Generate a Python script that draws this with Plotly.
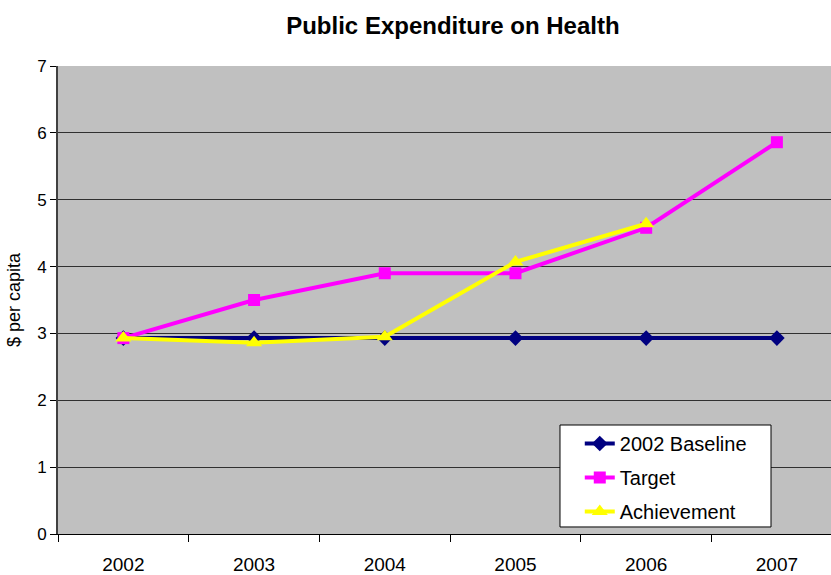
import plotly.graph_objects as go

years = ["2002", "2003", "2004", "2005", "2006", "2007"]
baseline = [2.93, 2.93, 2.93, 2.93, 2.93, 2.93]
target = [2.93, 3.50, 3.90, 3.90, 4.58, 5.86]
achievement = [2.93, 2.86, 2.95, 4.07, 4.64]

font = "Liberation Sans, Arial, sans-serif"

fig = go.Figure()
fig.add_trace(go.Scatter(x=years, y=baseline, name="2002 Baseline", mode="lines+markers",
                         legendgroup="a",
                         line=dict(color="#000080", width=4),
                         marker=dict(symbol="diamond", size=12, color="#000080")))
fig.add_trace(go.Scatter(x=years, y=target, name="Target", mode="lines+markers",
                         legendgroup="b",
                         line=dict(color="#FF00FF", width=4),
                         marker=dict(symbol="square", size=12, color="#FF00FF")))
fig.add_trace(go.Scatter(x=years[:len(achievement)], y=achievement, name="Achievement", mode="lines+markers",
                         legendgroup="c",
                         line=dict(color="#FFFF00", width=4),
                         marker=dict(symbol="triangle-up", size=14, color="#FFFF00")))

# legend frame
fig.add_shape(type="rect", xref="paper", yref="paper",
              x0=0.6494, x1=0.9224, y0=0.0150, y1=0.2329,
              fillcolor="white", line=dict(color="black", width=1), layer="above")

fig.update_layout(
    width=831, height=575,
    margin=dict(l=58, r=0, t=66, b=41),
    paper_bgcolor="white", plot_bgcolor="#C0C0C0",
    font=dict(family=font, color="black", size=16),
    title=dict(text="<b>Public Expenditure on Health</b>", x=0.545, xanchor="center",
               y=0.956, yanchor="middle", font=dict(size=24, family=font)),
    showlegend=True,
    legend=dict(x=0.675, y=0.235, xanchor="left", yanchor="top",
                bgcolor="rgba(0,0,0,0)", borderwidth=0,
                font=dict(size=20, family=font), tracegroupgap=5,
                itemwidth=30, traceorder="grouped"),
)
fig.update_xaxes(type="category", range=[-0.5, 5.414], tickson="boundaries",
                 ticks="outside", ticklen=7, tickcolor="black",
                 showline=True, linecolor="black", linewidth=1, showgrid=False,
                 tickfont=dict(size=19), ticklabelstandoff=13)
fig.update_yaxes(range=[0, 7], dtick=1, ticks="outside", ticklen=6, tickcolor="black",
                 showline=True, linecolor="#404040", linewidth=2,
                 showgrid=True, gridcolor="#303030", gridwidth=1,
                 zeroline=False, tickfont=dict(size=17),
                 title=dict(text="$ per capita", font=dict(size=18), standoff=12))

fig.write_html("out.html")
